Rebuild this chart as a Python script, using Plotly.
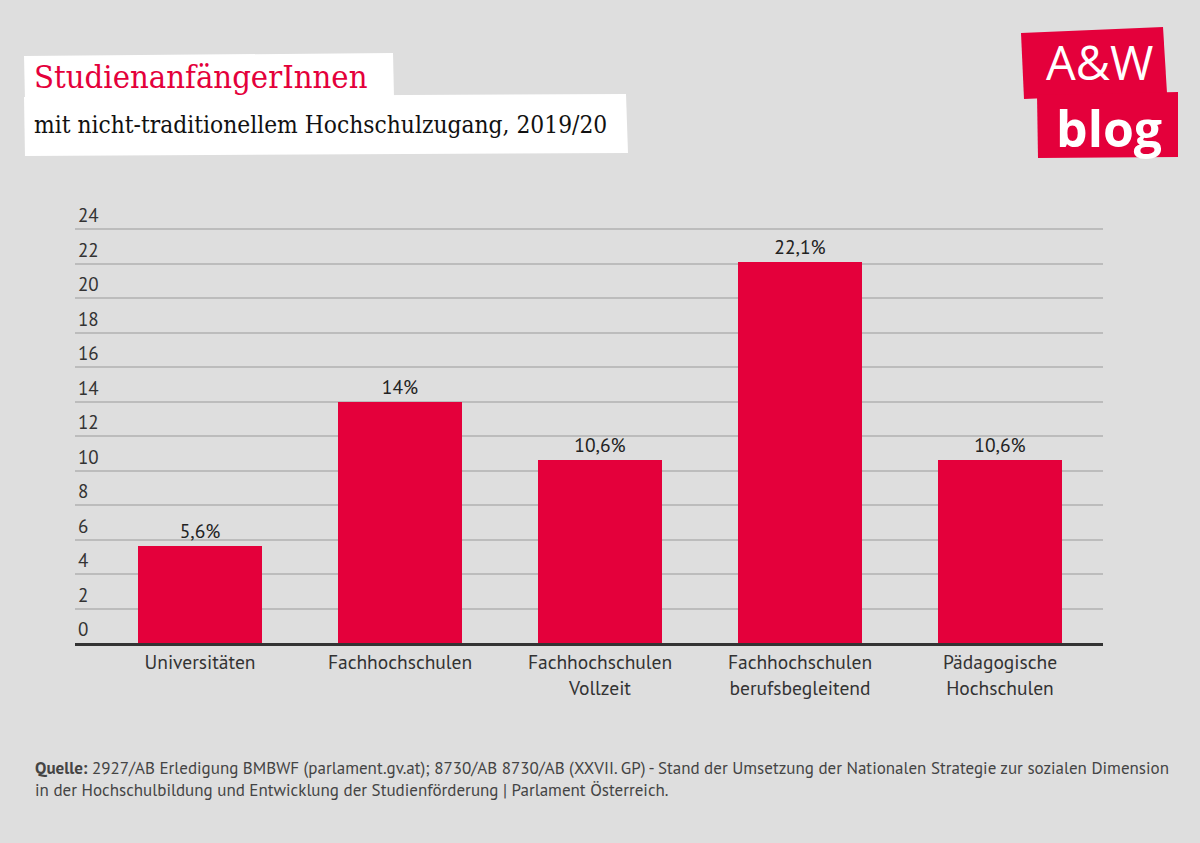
import plotly.graph_objects as go

categories = ["Universitäten", "Fachhochschulen", "Fachhochschulen<br>Vollzeit",
              "Fachhochschulen<br>berufsbegleitend", "Pädagogische<br>Hochschulen"]
values = [5.6, 14.0, 10.6, 22.1, 10.6]
value_labels = ["5,6%", "14%", "10,6%", "22,1%", "10,6%"]
tick_vals = [0, 2, 4, 6, 8, 10, 12, 14, 16, 18, 20, 22, 24]

RED = "#e4003b"
BG = "#dedede"
SANS = "PT Sans, Lato, Noto Sans, sans-serif"
SERIF = "DejaVu Serif Condensed, DejaVu Serif, serif"

W, H = 1200, 843
L, R, T, B = 75, 97, 228, 200
PW, PH = W - L - R, H - T - B
YMAX = 24.06


def px(x):
    return (x - L) / PW


def py(y):
    return (H - B - y) / PH


def poly(points):
    return "M " + " L ".join(f"{px(x):.5f},{py(y):.5f}" for x, y in points) + " Z"


fig = go.Figure()
fig.add_trace(go.Bar(
    x=list(range(len(categories))), y=values,
    marker=dict(color=RED, line=dict(width=0)),
    width=0.62,
    text=value_labels, textposition="outside",
    textfont=dict(family=SANS, size=19.5, color="#222222"),
    cliponaxis=False,
))

shapes = [
    dict(type="path", xref="paper", yref="paper",
         path=poly([(24, 56), (393, 53), (394, 97), (25, 100)]),
         fillcolor="white", line=dict(width=0), layer="below"),
    dict(type="path", xref="paper", yref="paper",
         path=poly([(24, 97), (626, 94), (628, 153), (25, 156)]),
         fillcolor="white", line=dict(width=0), layer="below"),
    dict(type="path", xref="paper", yref="paper",
         path=poly([(1021, 33), (1163, 27), (1167, 93), (1024, 99)]),
         fillcolor=RED, line=dict(width=0), layer="below"),
    dict(type="path", xref="paper", yref="paper",
         path=poly([(1037, 95), (1178, 92), (1178, 157), (1038, 158)]),
         fillcolor=RED, line=dict(width=0), layer="below"),
]

annotations = [
    dict(text="StudienanfängerInnen", xref="paper", yref="paper",
         x=px(32), y=py(77), xanchor="left", yanchor="middle", showarrow=False,
         font=dict(family=SERIF, size=32.5, color=RED)),
    dict(text="mit nicht-traditionellem Hochschulzugang, 2019/20", xref="paper", yref="paper",
         x=px(32), y=py(124), xanchor="left", yanchor="middle", showarrow=False,
         font=dict(family=SERIF, size=24.3, color="#111111")),
    dict(text="A&amp;W", xref="paper", yref="paper",
         x=px(1099), y=py(62), xanchor="center", yanchor="middle", showarrow=False,
         borderpad=0,
         font=dict(family="Open Sans, sans-serif", size=47, color="white")),
    dict(text="<b>blog</b>", xref="paper", yref="paper",
         x=px(1109), y=py(128), xanchor="center", yanchor="middle", showarrow=False,
         borderpad=0,
         font=dict(family="Open Sans, sans-serif", size=50, color="white")),
    dict(text="<b>Quelle:</b> 2927/AB Erledigung BMBWF (parlament.gv.at); 8730/AB 8730/AB (XXVII. GP) - "
              "Stand der Umsetzung der Nationalen Strategie zur sozialen Dimension<br>"
              "in der Hochschulbildung und Entwicklung der Studienförderung | Parlament Österreich.",
         xref="paper", yref="paper", x=px(33), y=py(779), xanchor="left", yanchor="middle",
         align="left", showarrow=False,
         font=dict(family=SANS, size=17, color="#444444")),
]

for v in tick_vals:
    annotations.append(dict(
        text=str(v), xref="paper", yref="y", x=px(76), y=v,
        xanchor="left", yanchor="bottom", yshift=0, showarrow=False,
        font=dict(family=SANS, size=19, color="#333333")))

fig.update_layout(
    width=W, height=H,
    paper_bgcolor=BG, plot_bgcolor=BG,
    margin=dict(l=L, r=R, t=T, b=B),
    showlegend=False,
    bargap=0,
    shapes=shapes,
    annotations=annotations,
    xaxis=dict(
        range=[-0.625, 4.515],
        tickmode="array", tickvals=list(range(len(categories))), ticktext=categories,
        tickfont=dict(family=SANS, size=19.5, color="#333333"),
        showgrid=False, zeroline=False,
        showline=True, linecolor="#333333", linewidth=3,
        ticks="", ticklen=0,
    ),
    yaxis=dict(
        range=[0, YMAX],
        tickmode="array", tickvals=tick_vals, showticklabels=False,
        showgrid=True, gridcolor="#bcbcbc", gridwidth=2,
        zeroline=False, showline=False, ticks="",
    ),
    font=dict(family=SANS),
)

fig.write_html("out.html")
